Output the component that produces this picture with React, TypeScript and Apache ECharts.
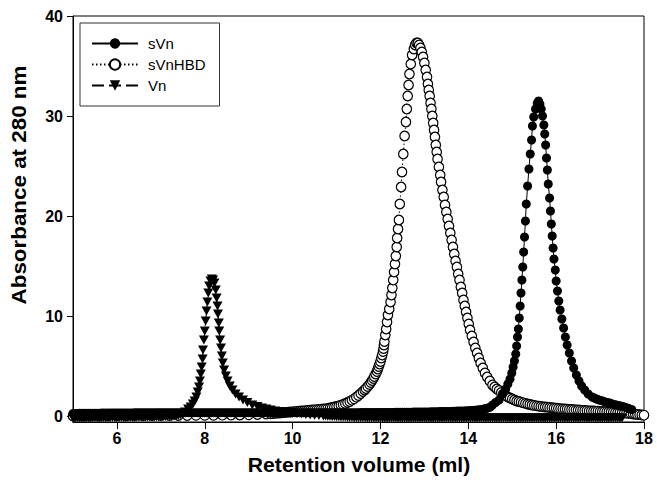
import React, { useEffect, useRef } from "react";
import * as echarts from "echarts";

const xTicks = [6, 8, 10, 12, 14, 16, 18];
const yTicks = [0, 10, 20, 30, 40];
const seriesNames = ["sVn", "sVnHBD", "Vn"];
const xTitle = "Retention volume (ml)";
const yTitle = "Absorbance at 280 nm";

const sVnPoints = [
  [5.0, 0.26], [5.05, 0.26], [5.1, 0.26], [5.15, 0.27], [5.2, 0.27], [5.25, 0.27], [5.3, 0.27], [5.35, 0.28], [5.4, 0.28], [5.45, 0.28],
  [5.5, 0.28], [5.55, 0.28], [5.6, 0.28], [5.65, 0.29], [5.7, 0.29], [5.75, 0.29], [5.8, 0.29], [5.85, 0.3], [5.9, 0.3], [5.95, 0.3],
  [6.0, 0.3], [6.05, 0.3], [6.1, 0.31], [6.15, 0.31], [6.2, 0.31], [6.25, 0.31], [6.3, 0.31], [6.35, 0.31], [6.4, 0.32], [6.45, 0.32],
  [6.5, 0.32], [6.55, 0.32], [6.6, 0.32], [6.65, 0.32], [6.7, 0.32], [6.75, 0.32], [6.8, 0.32], [6.85, 0.32], [6.9, 0.33], [6.95, 0.33],
  [7.0, 0.33], [7.05, 0.33], [7.1, 0.33], [7.15, 0.33], [7.2, 0.33], [7.25, 0.33], [7.3, 0.33], [7.35, 0.33], [7.4, 0.33], [7.45, 0.33],
  [7.5, 0.33], [7.55, 0.33], [7.6, 0.33], [7.65, 0.33], [7.7, 0.33], [7.75, 0.33], [7.8, 0.33], [7.85, 0.33], [7.9, 0.33], [7.95, 0.33],
  [8.0, 0.33], [8.05, 0.33], [8.1, 0.33], [8.15, 0.33], [8.2, 0.33], [8.25, 0.33], [8.3, 0.33], [8.35, 0.33], [8.4, 0.33], [8.45, 0.33],
  [8.5, 0.33], [8.55, 0.33], [8.6, 0.33], [8.65, 0.33], [8.7, 0.33], [8.75, 0.33], [8.8, 0.33], [8.85, 0.33], [8.9, 0.33], [8.95, 0.33],
  [9.0, 0.33], [9.05, 0.33], [9.1, 0.33], [9.15, 0.33], [9.2, 0.33], [9.25, 0.33], [9.3, 0.33], [9.35, 0.33], [9.4, 0.33], [9.45, 0.33],
  [9.5, 0.33], [9.55, 0.33], [9.6, 0.33], [9.65, 0.33], [9.7, 0.33], [9.75, 0.33], [9.8, 0.33], [9.85, 0.33], [9.9, 0.33], [9.95, 0.33],
  [10.0, 0.33], [10.05, 0.33], [10.1, 0.33], [10.15, 0.33], [10.2, 0.33], [10.25, 0.33], [10.3, 0.33], [10.35, 0.33], [10.4, 0.33], [10.45, 0.33],
  [10.5, 0.33], [10.55, 0.33], [10.6, 0.33], [10.65, 0.33], [10.7, 0.33], [10.75, 0.33], [10.8, 0.33], [10.85, 0.33], [10.9, 0.33], [10.95, 0.33],
  [11.0, 0.33], [11.05, 0.33], [11.1, 0.33], [11.15, 0.33], [11.2, 0.33], [11.25, 0.33], [11.3, 0.33], [11.35, 0.33], [11.4, 0.33], [11.45, 0.33],
  [11.5, 0.33], [11.55, 0.34], [11.6, 0.34], [11.65, 0.34], [11.7, 0.34], [11.75, 0.34], [11.8, 0.34], [11.85, 0.34], [11.9, 0.34], [11.95, 0.35],
  [12.0, 0.35], [12.05, 0.35], [12.1, 0.35], [12.15, 0.36], [12.2, 0.36], [12.25, 0.36], [12.3, 0.36], [12.35, 0.37], [12.4, 0.37], [12.45, 0.37],
  [12.5, 0.37], [12.55, 0.38], [12.6, 0.38], [12.65, 0.38], [12.7, 0.38], [12.75, 0.39], [12.8, 0.39], [12.85, 0.39], [12.9, 0.39], [12.95, 0.4],
  [13.0, 0.4], [13.05, 0.41], [13.1, 0.41], [13.15, 0.42], [13.2, 0.42], [13.25, 0.43], [13.3, 0.43], [13.35, 0.44], [13.4, 0.44], [13.45, 0.45],
  [13.5, 0.45], [13.55, 0.46], [13.6, 0.46], [13.65, 0.47], [13.7, 0.48], [13.75, 0.49], [13.8, 0.49], [13.85, 0.5], [13.9, 0.51], [13.95, 0.52],
  [14.0, 0.53], [14.05, 0.55], [14.1, 0.56], [14.15, 0.58], [14.2, 0.6], [14.25, 0.63], [14.3, 0.66], [14.35, 0.7], [14.4, 0.75], [14.45, 0.81],
  [14.5, 0.9], [14.55, 1.1], [14.62, 1.35], [14.7, 1.6], [14.78, 2.2],
  [14.85, 2.7], [14.9, 3.2], [14.95, 3.7], [14.99, 4.3], [15.02, 4.9], [15.05, 5.5], [15.08, 6.2], [15.1, 7.0], [15.12, 7.9], [15.14, 8.7],
  [15.16, 9.8], [15.18, 11.0], [15.2, 12.3], [15.22, 13.6], [15.24, 14.9], [15.26, 16.4], [15.28, 17.9], [15.3, 19.5], [15.32, 21.2], [15.35, 23.0],
  [15.38, 24.7], [15.41, 26.2], [15.44, 27.6], [15.46, 29.0], [15.49, 29.9], [15.53, 30.7], [15.57, 31.3], [15.6, 31.5], [15.63, 31.2], [15.66, 30.7],
  [15.69, 30.0], [15.72, 29.1], [15.74, 28.2], [15.76, 27.1], [15.78, 25.8], [15.8, 24.6], [15.82, 23.2], [15.85, 21.8], [15.87, 20.5], [15.89, 19.2],
  [15.91, 18.0], [15.93, 16.8], [15.95, 15.7], [15.98, 14.6], [16.0, 13.5], [16.03, 12.5], [16.06, 11.5], [16.09, 10.6], [16.13, 9.7], [16.17, 8.8],
  [16.21, 7.9], [16.25, 7.1], [16.3, 6.3], [16.35, 5.5], [16.4, 4.8], [16.46, 4.1], [16.52, 3.5], [16.58, 3.0], [16.65, 2.6], [16.73, 2.2],
  [16.82, 1.9], [16.87, 1.8], [16.92, 1.7], [16.97, 1.62], [17.02, 1.55], [17.07, 1.48], [17.12, 1.4], [17.17, 1.35], [17.22, 1.3], [17.27, 1.22],
  [17.32, 1.15], [17.37, 1.1], [17.42, 1.05], [17.47, 1.0], [17.52, 0.95], [17.57, 0.88], [17.62, 0.8], [17.67, 0.72], [17.72, 0.65],
];

const sVnHBDPoints = [
  [5.0, 0.0], [5.2, 0.0], [5.4, 0.0], [5.6, 0.0], [5.8, 0.02], [6.0, 0.02], [6.2, 0.02], [6.4, 0.03], [6.6, 0.03], [6.8, 0.03],
  [7.0, 0.04], [7.2, 0.04], [7.4, 0.05], [7.6, 0.05], [7.8, 0.06], [8.0, 0.06], [8.2, 0.07], [8.4, 0.08], [8.6, 0.09], [8.8, 0.1],
  [9.0, 0.12], [9.2, 0.15], [9.4, 0.2], [9.5, 0.22], [9.55, 0.24], [9.6, 0.26], [9.65, 0.28], [9.7, 0.3], [9.75, 0.32], [9.8, 0.34],
  [9.85, 0.36], [9.9, 0.38], [9.95, 0.4], [10.0, 0.42], [10.05, 0.44], [10.1, 0.46], [10.15, 0.48], [10.2, 0.5], [10.25, 0.52], [10.3, 0.54],
  [10.35, 0.56], [10.4, 0.58], [10.45, 0.6], [10.5, 0.62], [10.55, 0.64], [10.6, 0.66], [10.65, 0.68], [10.7, 0.7], [10.75, 0.72], [10.8, 0.76],
  [10.85, 0.8], [10.9, 0.85], [10.95, 0.9], [11.0, 0.95], [11.05, 1.0], [11.1, 1.08], [11.15, 1.16], [11.2, 1.25], [11.25, 1.35], [11.3, 1.45],
  [11.35, 1.58], [11.4, 1.72], [11.45, 1.88], [11.5, 2.05], [11.55, 2.25], [11.6, 2.45], [11.64, 2.6], [11.67, 2.75], [11.71, 2.95], [11.75, 3.15],
  [11.78, 3.35], [11.81, 3.55], [11.84, 3.75], [11.86, 3.95], [11.89, 4.2], [11.92, 4.45], [11.94, 4.7], [11.96, 4.95], [11.98, 5.2], [12.0, 5.45],
  [12.02, 5.8], [12.04, 6.1], [12.06, 6.45], [12.07, 6.75], [12.08, 7.1], [12.09, 7.45], [12.11, 8.1], [12.13, 8.7], [12.15, 9.4], [12.17, 10.1],
  [12.2, 10.7], [12.23, 11.4], [12.25, 12.1], [12.27, 12.8], [12.29, 13.6], [12.31, 14.4], [12.33, 15.2], [12.35, 16.0], [12.37, 16.9], [12.38, 17.8],
  [12.4, 18.7], [12.42, 19.6], [12.44, 21.2], [12.47, 22.9], [12.49, 24.4], [12.52, 26.2], [12.55, 28.0], [12.58, 29.4], [12.6, 30.7], [12.62, 32.0],
  [12.64, 33.1], [12.66, 34.2], [12.69, 35.2], [12.72, 36.1], [12.76, 36.7], [12.79, 37.1], [12.82, 37.3], [12.85, 37.3], [12.88, 37.1], [12.91, 36.8],
  [12.94, 36.4], [12.97, 35.9], [13.0, 35.3], [13.03, 34.6], [13.06, 33.9], [13.08, 33.2], [13.1, 32.6], [13.12, 32.0], [13.14, 31.3], [13.16, 30.7],
  [13.18, 30.0], [13.2, 29.3], [13.22, 28.6], [13.24, 27.9], [13.26, 27.1], [13.28, 26.4], [13.3, 25.7], [13.33, 24.9], [13.36, 24.1], [13.38, 23.4],
  [13.41, 22.6], [13.44, 21.9], [13.47, 21.1], [13.5, 20.4], [13.53, 19.7], [13.56, 19.0], [13.59, 18.3], [13.62, 17.6], [13.65, 16.9], [13.68, 16.2],
  [13.71, 15.5], [13.74, 14.9], [13.77, 14.2], [13.8, 13.6], [13.83, 12.9], [13.86, 12.3], [13.89, 11.6], [13.92, 11.0], [13.95, 10.4], [13.98, 9.8],
  [14.01, 9.2], [14.04, 8.6], [14.08, 8.0], [14.12, 7.4], [14.16, 6.8], [14.2, 6.3], [14.24, 5.8], [14.28, 5.3], [14.33, 4.8], [14.38, 4.3],
  [14.43, 3.9], [14.49, 3.5], [14.55, 3.1], [14.6, 2.9], [14.65, 2.7], [14.7, 2.55], [14.75, 2.35], [14.8, 2.2], [14.85, 2.05], [14.9, 1.9],
  [14.95, 1.8], [15.0, 1.7], [15.05, 1.6], [15.1, 1.5], [15.15, 1.45], [15.2, 1.38], [15.25, 1.32], [15.3, 1.26], [15.35, 1.2], [15.4, 1.15],
  [15.45, 1.1], [15.5, 1.06], [15.55, 1.02], [15.6, 0.98], [15.65, 0.95], [15.7, 0.92], [15.75, 0.9], [15.8, 0.88], [15.85, 0.85], [15.9, 0.83],
  [15.95, 0.8], [16.0, 0.78], [16.05, 0.76], [16.1, 0.74], [16.15, 0.72], [16.2, 0.7], [16.25, 0.68], [16.3, 0.66], [16.35, 0.65], [16.4, 0.63],
  [16.45, 0.62], [16.5, 0.6], [16.55, 0.58], [16.6, 0.57], [16.65, 0.55], [16.7, 0.54], [16.75, 0.52], [16.8, 0.51], [16.85, 0.5], [16.9, 0.49],
  [16.95, 0.48], [17.0, 0.46], [17.05, 0.45], [17.1, 0.44], [17.15, 0.42], [17.2, 0.41], [17.25, 0.4], [17.3, 0.38], [17.35, 0.37], [17.4, 0.35],
  [17.45, 0.34], [17.5, 0.32], [17.55, 0.3], [17.6, 0.28], [17.65, 0.26], [17.7, 0.23], [17.75, 0.2], [17.8, 0.18], [17.85, 0.15], [17.9, 0.13],
  [17.95, 0.1], [18.0, 0.08],
];

const vnPoints = [
  [5.0, -0.2], [5.05, -0.2], [5.1, -0.2], [5.15, -0.2], [5.2, -0.19], [5.25, -0.19], [5.3, -0.19], [5.35, -0.19], [5.4, -0.18], [5.45, -0.18],
  [5.5, -0.18], [5.55, -0.18], [5.6, -0.17], [5.65, -0.17], [5.7, -0.17], [5.75, -0.17], [5.8, -0.16], [5.85, -0.16], [5.9, -0.15], [5.95, -0.15],
  [6.0, -0.15], [6.05, -0.15], [6.1, -0.15], [6.15, -0.15], [6.2, -0.15], [6.25, -0.14], [6.3, -0.14], [6.35, -0.14], [6.4, -0.14], [6.45, -0.13],
  [6.5, -0.13], [6.55, -0.13], [6.6, -0.13], [6.65, -0.12], [6.7, -0.12], [6.75, -0.11], [6.8, -0.11], [6.85, -0.1], [6.9, -0.1], [6.95, -0.09],
  [7.0, -0.09], [7.05, -0.08], [7.1, -0.07], [7.15, -0.06], [7.2, -0.05], [7.25, -0.04], [7.3, -0.02], [7.35, 0.01], [7.4, 0.06], [7.45, 0.12],
  [7.5, 0.2], [7.55, 0.4], [7.62, 0.7], [7.68, 0.9], [7.73, 1.2],
  [7.77, 1.5], [7.81, 1.9], [7.84, 2.4], [7.87, 2.9], [7.89, 3.5], [7.91, 4.2], [7.93, 4.9], [7.95, 5.7], [7.96, 6.6], [7.98, 7.6],
  [8.0, 8.5], [8.02, 9.5], [8.04, 10.5], [8.06, 11.4], [8.08, 12.3], [8.1, 13.0], [8.13, 13.5], [8.16, 13.7], [8.19, 13.6], [8.22, 13.3],
  [8.25, 12.6], [8.27, 11.8], [8.29, 11.0], [8.3, 10.2], [8.32, 9.3], [8.33, 8.5], [8.35, 7.6], [8.37, 6.8], [8.39, 6.0], [8.41, 5.3],
  [8.44, 4.6], [8.48, 4.0], [8.52, 3.5], [8.57, 3.0], [8.63, 2.6], [8.7, 2.2], [8.78, 1.9], [8.87, 1.6], [8.97, 1.35], [9.08, 1.1],
  [9.2, 0.95], [9.3, 0.8], [9.4, 0.7], [9.5, 0.6], [9.6, 0.5], [9.7, 0.45], [9.8, 0.4], [9.9, 0.35], [10.0, 0.3], [10.1, 0.25],
  [10.2, 0.2], [10.3, 0.15], [10.4, 0.11], [10.5, 0.07], [10.6, 0.04], [10.7, 0.01], [10.75, -0.005], [10.8, -0.02], [10.85, -0.035], [10.9, -0.05],
  [10.95, -0.06], [11.0, -0.07], [11.05, -0.08], [11.1, -0.09], [11.15, -0.1], [11.2, -0.11], [11.25, -0.12], [11.3, -0.13], [11.35, -0.13], [11.4, -0.14],
  [11.45, -0.14], [11.5, -0.15], [11.55, -0.15], [11.6, -0.16], [11.65, -0.16], [11.7, -0.17], [11.75, -0.17], [11.8, -0.18], [11.85, -0.18], [11.9, -0.18],
  [11.95, -0.18], [12.0, -0.19], [12.05, -0.19], [12.1, -0.19], [12.15, -0.19], [12.2, -0.2], [12.25, -0.2], [12.3, -0.2], [12.35, -0.2], [12.4, -0.2],
  [12.45, -0.2], [12.5, -0.2], [12.55, -0.2], [12.6, -0.2], [12.65, -0.2], [12.7, -0.2], [12.75, -0.2], [12.8, -0.2], [12.85, -0.2], [12.9, -0.2],
  [12.95, -0.2], [13.0, -0.2], [13.05, -0.2], [13.1, -0.2], [13.15, -0.2], [13.2, -0.2], [13.25, -0.2], [13.3, -0.2], [13.35, -0.2], [13.4, -0.2],
  [13.45, -0.2], [13.5, -0.2], [13.55, -0.2], [13.6, -0.2], [13.65, -0.2], [13.7, -0.2], [13.75, -0.2], [13.8, -0.2], [13.85, -0.2], [13.9, -0.2],
  [13.95, -0.2], [14.0, -0.2], [14.05, -0.2], [14.1, -0.2], [14.15, -0.2], [14.2, -0.2], [14.25, -0.2], [14.3, -0.2], [14.35, -0.2], [14.4, -0.2],
  [14.45, -0.2], [14.5, -0.2], [14.55, -0.2], [14.6, -0.2], [14.65, -0.2], [14.7, -0.2], [14.75, -0.2], [14.8, -0.2], [14.85, -0.2], [14.9, -0.2],
  [14.95, -0.2], [15.0, -0.2], [15.05, -0.2], [15.1, -0.2], [15.15, -0.2], [15.2, -0.2], [15.25, -0.2], [15.3, -0.2], [15.35, -0.2], [15.4, -0.2],
  [15.45, -0.2], [15.5, -0.2], [15.55, -0.2], [15.6, -0.2], [15.65, -0.2], [15.7, -0.2], [15.75, -0.2], [15.8, -0.2], [15.85, -0.2], [15.9, -0.2],
  [15.95, -0.2], [16.0, -0.2], [16.05, -0.2], [16.1, -0.2], [16.15, -0.2], [16.2, -0.2], [16.25, -0.2], [16.3, -0.2], [16.35, -0.2], [16.4, -0.2],
  [16.45, -0.2], [16.5, -0.2], [16.55, -0.2], [16.6, -0.2], [16.65, -0.2], [16.7, -0.2], [16.75, -0.2], [16.8, -0.2], [16.85, -0.2], [16.9, -0.2],
  [16.95, -0.2], [17.0, -0.2], [17.05, -0.2], [17.1, -0.2], [17.15, -0.2], [17.2, -0.2], [17.25, -0.2], [17.3, -0.2], [17.35, -0.2], [17.4, -0.2],
  [17.45, -0.2], [17.5, -0.2],
];

const FONT = "'Liberation Sans', Arial, sans-serif";

export default function App() {
  const ref = useRef<HTMLDivElement>(null);
  useEffect(() => {
    const chart = echarts.init(ref.current!, null, { renderer: "svg" });
    const axisCommon = {
      type: "value",
      splitLine: { show: false },
      axisLine: { show: true, onZero: false, lineStyle: { color: "#000", width: 1 } },
    };
    chart.setOption({
      animation: false,
      backgroundColor: "#fff",
      grid: { left: 73, right: 13, top: 16, bottom: 66, show: true, borderColor: "#000", borderWidth: 1 },
      xAxis: {
        ...axisCommon,
        min: 5,
        max: 18,
        axisTick: { show: true, length: 7, customValues: xTicks, lineStyle: { color: "#000" } },
        axisLabel: { customValues: xTicks, color: "#000", fontWeight: "bold", fontSize: 16, fontFamily: FONT, margin: 8 },
      },
      yAxis: {
        ...axisCommon,
        min: -0.6,
        max: 40,
        axisTick: { show: true, length: 6, customValues: yTicks, lineStyle: { color: "#000" } },
        axisLabel: { customValues: yTicks, color: "#000", fontWeight: "bold", fontSize: 16, fontFamily: FONT, margin: 10 },
      },
      legend: {
        data: seriesNames,
        orient: "vertical",
        left: 80,
        top: 23,
        padding: [13, 14, 13, 11],
        itemWidth: 46,
        itemHeight: 13,
        itemGap: 6,
        borderColor: "#333",
        borderWidth: 1,
        textStyle: { fontFamily: FONT, fontSize: 15, color: "#000", padding: [0, 0, 0, 5] },
      },
      graphic: [
        {
          type: "text",
          x: 359,
          y: 465,
          scaleX: 1.06,
          style: { text: xTitle, font: `bold 20px ${FONT}`, fill: "#000", align: "center", verticalAlign: "middle" },
        },
        {
          type: "text",
          x: 19,
          y: 185,
          rotation: Math.PI / 2,
          scaleX: 1.12,
          style: { text: yTitle, font: `bold 20px ${FONT}`, fill: "#000", align: "center", verticalAlign: "middle" },
        },
      ],
      series: [
        {
          name: seriesNames[1],
          type: "line",
          data: sVnHBDPoints,
          clip: false,
          showAllSymbol: true,
          symbol: "circle",
          symbolSize: 9.5,
          itemStyle: { color: "#fff", borderColor: "#000", borderWidth: 1.2 },
          lineStyle: { color: "#000", width: 1, type: [1.5, 2.5] },
          z: 2,
        },
        {
          name: seriesNames[0],
          type: "line",
          data: sVnPoints,
          clip: false,
          showAllSymbol: true,
          symbol: "circle",
          symbolSize: 9,
          itemStyle: { color: "#000" },
          lineStyle: { color: "#000", width: 1, type: "solid" },
          z: 3,
        },
        {
          name: seriesNames[2],
          type: "line",
          data: vnPoints,
          clip: false,
          showAllSymbol: true,
          symbol: "triangle",
          symbolRotate: 180,
          symbolSize: [10, 9],
          itemStyle: { color: "#000" },
          lineStyle: { color: "#000", width: 1, type: [12, 5] },
          z: 4,
        },
      ],
    });
    return () => chart.dispose();
  }, []);
  return <div ref={ref} style={{ position: "fixed", left: 0, top: 0, width: 657, height: 488 }} />;
}
